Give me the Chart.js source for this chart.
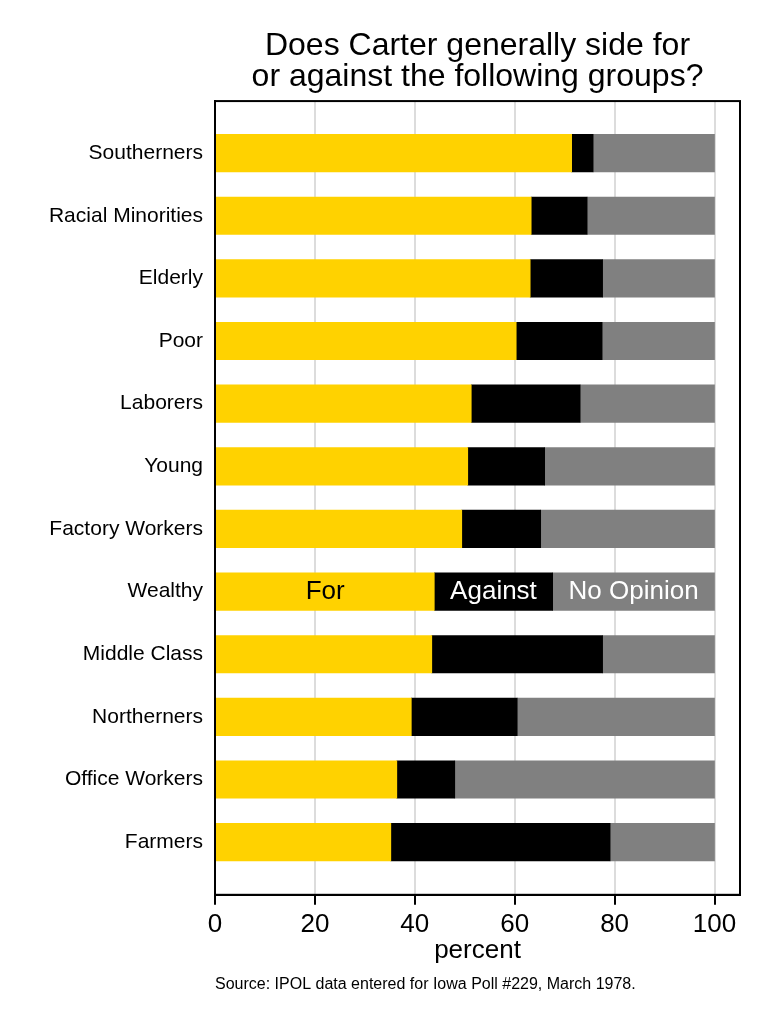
<!DOCTYPE html>
<html><head><meta charset="utf-8">
<script src="https://cdn.jsdelivr.net/npm/chart.js@4"></script>
<style>html,body{margin:0;padding:0;background:#fff}</style>
</head><body>
<canvas id="c" width="768" height="1024" style="width:768px;height:1024px;display:block"></canvas>
<script>
const categories = ["Southerners","Racial Minorities","Elderly","Poor","Laborers","Young","Factory Workers","Wealthy","Middle Class","Northerners","Office Workers","Farmers"];
const forValues = [71.4,63.3,63.1,60.3,51.3,50.6,49.4,43.9,43.4,39.3,36.4,35.2];
const againstValues = [4.3,11.2,14.5,17.2,21.8,15.4,15.8,23.7,34.2,21.2,11.6,43.9];
const noOpinionValues = [24.3,25.5,22.4,22.5,26.9,34.0,34.8,32.4,22.4,39.5,52.0,20.9];
const seriesNames = ["For","Against","No Opinion"];
const xTicks = [0,20,40,60,80,100];
const labelRow = "Wealthy";
const titleLines = ["Does Carter generally side for","or against the following groups?"];
const xTitle = "percent";
const sourceNote = "Source: IPOL data entered for Iowa Poll #229, March 1978.";

const FAMILY = '"Liberation Sans", Arial, Helvetica, sans-serif';
const colors = ["#FFD200", "#000000", "#808080"];
const labelColors = ["#000000", "#ffffff", "#ffffff"];

const toPts = arr => arr.map((v, i) => ({x: v, y: i}));

const barLabels = {
  id: 'barLabels',
  afterDatasetsDraw(chart) {
    const ctx = chart.ctx;
    const idx = categories.indexOf(labelRow);
    ctx.save();
    chart.data.datasets.forEach((ds, i) => {
      const el = chart.getDatasetMeta(i).data[idx];
      const cx = (el.x + el.base) / 2;
      ctx.fillStyle = labelColors[i];
      ctx.font = '26px ' + FAMILY;
      ctx.textAlign = 'center';
      ctx.textBaseline = 'middle';
      ctx.fillText(ds.label, cx, el.y);
    });
    const a = chart.chartArea;
    ctx.strokeStyle = '#000';
    ctx.lineWidth = 2;
    ctx.strokeRect(a.left, a.top, a.right - a.left, a.bottom - a.top);
    ctx.restore();
  }
};

new Chart(document.getElementById('c'), {
  type: 'bar',
  data: {
    datasets: [
      {label: seriesNames[0], data: toPts(forValues), backgroundColor: colors[0]},
      {label: seriesNames[1], data: toPts(againstValues), backgroundColor: colors[1]},
      {label: seriesNames[2], data: toPts(noOpinionValues), backgroundColor: colors[2]}
    ]
  },
  options: {
    indexAxis: 'y',
    responsive: false,
    animation: false,
    barThickness: 37.5,
    layout: {padding: {left: 0, right: 28, top: 0, bottom: 0}},
    plugins: {
      legend: {display: false},
      tooltip: {enabled: false},
      title: {
        display: true, text: titleLines, fullSize: false, color: '#000',
        font: {size: 32, family: FAMILY, weight: 'normal', lineHeight: 0.97},
        padding: {top: 31, bottom: 8}
      },
      subtitle: {
        display: true, position: 'bottom', align: 'start', fullSize: false,
        text: sourceNote, color: '#000',
        font: {size: 16, family: FAMILY, weight: 'normal', lineHeight: 1.2},
        padding: {top: 4, bottom: 30}
      }
    },
    scales: {
      x: {
        type: 'linear', stacked: true, min: 0, max: 105.1,
        afterBuildTicks: s => { s.ticks = xTicks.map(v => ({value: v})); },
        ticks: {font: {size: 26, family: FAMILY}, color: '#000', padding: 4, maxRotation: 0, autoSkip: false},
        grid: {color: '#dcdcdc', lineWidth: 2, tickColor: '#000', tickWidth: 2, tickLength: 10, drawTicks: true},
        border: {color: '#000', width: 2},
        title: {display: true, text: xTitle, color: '#000', font: {size: 26, family: FAMILY}, padding: {top: 0, bottom: 4}},
        afterFit: s => { s.height = 76; }
      },
      y: {
        type: 'linear', stacked: true, reverse: true, offset: false, min: -0.83, max: 11.84,
        afterBuildTicks: s => { s.ticks = categories.map((c, i) => ({value: i})); },
        ticks: {callback: v => categories[v], font: {size: 21, family: FAMILY}, color: '#000', padding: 12, autoSkip: false},
        grid: {display: false, drawTicks: false, offset: false},
        border: {display: true, color: '#000', width: 2},
        afterFit: s => { s.width = 215; }
      }
    }
  },
  plugins: [barLabels]
});
</script>
</body></html>
